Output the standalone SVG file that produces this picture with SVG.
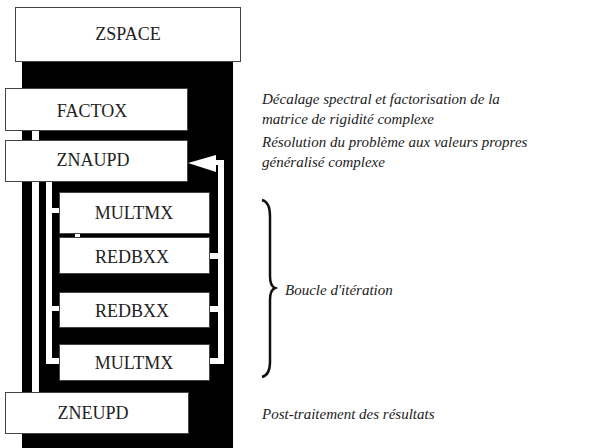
<svg xmlns="http://www.w3.org/2000/svg" width="598" height="448" viewBox="0 0 598 448" font-family="'Liberation Serif', 'Times New Roman', 'DejaVu Serif', serif">
<style>
.box{fill:#fff;stroke:#444;stroke-width:1}
.lbl{font-family:'Liberation Serif','Times New Roman','DejaVu Serif',serif;font-size:18px;fill:#222;text-anchor:middle}
.note{font-family:'Liberation Serif','Times New Roman','DejaVu Serif',serif;font-size:15px;font-style:italic;fill:#222}
.w{fill:#fff}
</style>
<rect x="22" y="62" width="211" height="386" fill="#000"/>
<g id="connectors">
<rect class="w" x="32" y="131" width="7" height="261"/>
<rect class="w" x="46" y="182" width="6" height="182"/>
<rect class="w" x="46" y="358" width="14" height="6"/>
<rect class="w" x="52" y="208" width="8" height="5"/>
<rect class="w" x="52" y="306" width="8" height="5"/>
<rect class="w" x="75" y="234" width="5" height="3"/>
<rect class="w" x="218" y="160" width="6" height="204"/>
<rect class="w" x="209" y="358" width="15" height="6"/>
<rect class="w" x="209" y="253" width="10" height="6"/>
<rect class="w" x="209" y="306" width="10" height="6"/>
<rect class="w" x="212" y="160" width="12" height="5"/>
<polygon class="w" points="188,163 216,155 216,172"/>
</g>
<g id="zspace"><rect class="box" x="15.5" y="7.5" width="225" height="54"/><text class="lbl" x="128" y="40">ZSPACE</text></g>
<g id="factox"><rect class="box" x="5.5" y="88.5" width="182" height="42"/><text class="lbl" x="92" y="117">FACTOX</text></g>
<g id="znaupd"><rect class="box" x="5.5" y="140.5" width="182" height="41"/><text class="lbl" x="93" y="166">ZNAUPD</text></g>
<g id="multmx1"><rect class="box" x="59.5" y="192.5" width="150" height="41"/><text class="lbl" x="134" y="219">MULTMX</text></g>
<g id="redbxx1"><rect class="box" x="59.5" y="237.5" width="150" height="36"/><text class="lbl" x="132" y="263">REDBXX</text></g>
<g id="redbxx2"><rect class="box" x="59.5" y="292.5" width="150" height="35"/><text class="lbl" x="132" y="317">REDBXX</text></g>
<g id="multmx2"><rect class="box" x="59.5" y="344.5" width="150" height="36"/><text class="lbl" x="134" y="369">MULTMX</text></g>
<g id="zneupd"><rect class="box" x="5.5" y="392.5" width="183" height="41"/><text class="lbl" x="93" y="419">ZNEUPD</text></g>
<g id="notes">
<text class="note" x="262" y="104">Décalage spectral et factorisation de la</text>
<text class="note" x="262" y="124">matrice de rigidité complexe</text>
<text class="note" x="262" y="147">Résolution du problème aux valeurs propres</text>
<text class="note" x="262" y="167">généralisé complexe</text>
<text class="note" x="285" y="295">Boucle d'itération</text>
<text class="note" x="262" y="419">Post-traitement des résultats</text>
<path d="M262,200 Q270,202 270,216 L270,276 Q270,286 275,288 Q270,290 270,300 L270,362 Q270,375 262,377" fill="none" stroke="#111" stroke-width="2.5"/>
</g>
</svg>
